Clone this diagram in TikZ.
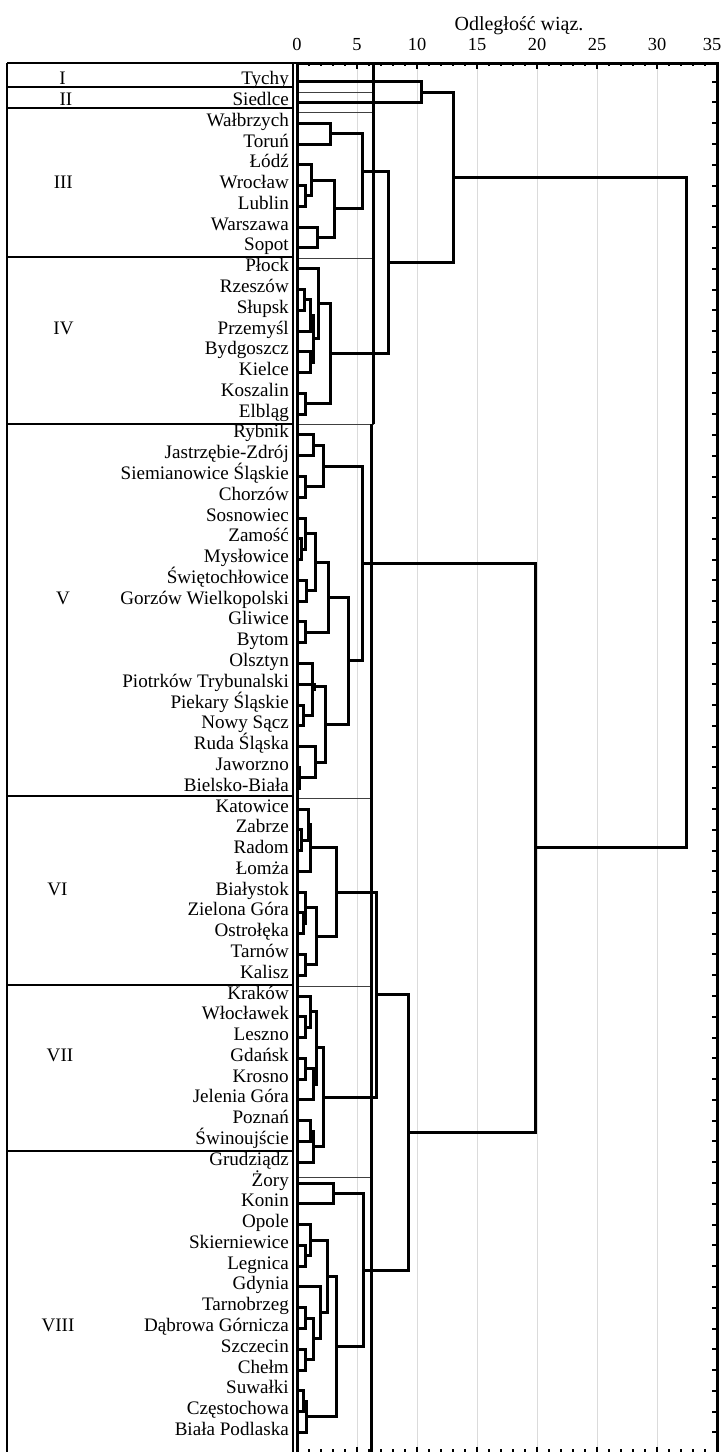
\documentclass[tikz,border=0pt]{standalone}
\usepackage{fontspec}
\setmainfont{Liberation Serif}
\usetikzlibrary{calc}
\newcommand\mrg[4]{%
  \path let \p1=(#2),\p2=(#3) in coordinate (#1) at ({#4pt},{0.5*\y1+0.5*\y2});
  \draw[dend] (#2) -| (#1) |- (#3);}
\begin{document}
\begin{tikzpicture}[x=1pt,y=-1pt,
  dend/.style={line width=3pt,line join=miter},
  leaf/.style={anchor=base east,inner sep=0pt,font=\fontsize{19.1}{20}\selectfont},
  grp/.style={anchor=base,inner sep=0pt,font=\fontsize{19.1}{20}\selectfont},
  axlab/.style={anchor=base,inner sep=0pt,font=\fontsize{18.4}{20}\selectfont},
  gridline/.style={black!14,line width=1pt},
  thinline/.style={black!75,line width=0.9pt},
  cutline/.style={black,line width=2.6pt},
  tableline/.style={black,line width=2.2pt},
  tick/.style={black,line width=2pt}]
\useasboundingbox (0,0) rectangle (723,1452);
\fill[white] (0,0) rectangle (723,1452);
% grid
\foreach \d in {5,10,...,30} \draw[gridline] ({297+12*\d},63) -- ({297+12*\d},1460);
% thin group lines in plot
\foreach \yy/\xx in {92.3/373.5,112.9/373.5,258.3/373.5,424/373.5,798.6/371.5,986.5/371.5,1177/371.5}
  \draw[thinline] (297,\yy) -- (\xx,\yy);
\draw[cutline] (373.5,63) -- (373.5,424);
\draw[cutline] (371.5,424) -- (371.5,1460);
% leaves
\foreach \n [count=\k from 0] in {Tychy,Siedlce,Wałbrzych,Toruń,Łódź,Wrocław,Lublin,Warszawa,Sopot,Płock,Rzeszów,Słupsk,Przemyśl,Bydgoszcz,Kielce,Koszalin,Elbląg,Rybnik,Jastrzębie-Zdrój,Siemianowice Śląskie,Chorzów,Sosnowiec,Zamość,Mysłowice,Świętochłowice,Gorzów Wielkopolski,Gliwice,Bytom,Olsztyn,Piotrków Trybunalski,Piekary Śląskie,Nowy Sącz,Ruda Śląska,Jaworzno,Bielsko-Biała,Katowice,Zabrze,Radom,Łomża,Białystok,Zielona Góra,Ostrołęka,Tarnów,Kalisz,Kraków,Włocławek,Leszno,Gdańsk,Krosno,Jelenia Góra,Poznań,Świnoujście,Grudziądz,Żory,Konin,Opole,Skierniewice,Legnica,Gdynia,Tarnobrzeg,Dąbrowa Górnicza,Szczecin,Chełm,Suwałki,Częstochowa,Biała Podlaska}{
  \node[leaf] (t\k) at (289,{81.7+20.78*\k+3}) {\n};
  \coordinate (L\k) at (297,{81.7+20.78*\k});
  \draw[tick] (717,{81.7+20.78*\k}) -- (712,{81.7+20.78*\k});
}
% top clusters
\mrg{mTS}{L0}{L1}{421.7}
% III
\mrg{mWT}{L2}{L3}{330.5}
\mrg{mWrLu}{L5}{L6}{305}
\mrg{mLo}{L4}{mWrLu}{311.5}
\mrg{mWaSo}{L7}{L8}{317.5}
\mrg{mLoWS}{mLo}{mWaSo}{334}
\mrg{mIII}{mWT}{mLoWS}{362.7}
% IV
\mrg{mRS}{L10}{L11}{304}
\mrg{mRSP}{mRS}{L12}{310}
\mrg{mBK}{L13}{L14}{310}
\mrg{mRSPBK}{mRSP}{mBK}{313.3}
\mrg{mPl}{L9}{mRSPBK}{318.3}
\mrg{mKE}{L15}{L16}{305}
\mrg{mIV}{mPl}{mKE}{330}
\mrg{mIIIIV}{mIII}{mIV}{388}
\mrg{mTopA}{mTS}{mIIIIV}{453.3}
% V
\mrg{mRJ}{L17}{L18}{313.8}
\mrg{mSC}{L19}{L20}{305.8}
\mrg{mVa}{mRJ}{mSC}{323.7}
\mrg{mZM}{L22}{L23}{301.7}
\mrg{mSZM}{L21}{mZM}{305.5}
\mrg{mSG}{L24}{L25}{306.7}
\mrg{mSZMSG}{mSZM}{mSG}{315}
\mrg{mGB}{L26}{L27}{305}
\mrg{mVbA}{mSZMSG}{mGB}{328.3}
\mrg{mPkNS}{L30}{L31}{303.3}
\mrg{mOPk}{L28}{mPkNS}{312.5}
\mrg{mPOPk}{L29}{mOPk}{314}
\mrg{mJB}{L33}{L34}{299.5}
\mrg{mRJB}{L32}{mJB}{315.5}
\mrg{mVbB}{mPOPk}{mRJB}{325}
\mrg{mVb}{mVbA}{mVbB}{348.5}
\mrg{mV}{mVa}{mVb}{362.6}
% VI
\mrg{mZR}{L36}{L37}{301.7}
\mrg{mKZR}{L35}{mZR}{308.5}
\mrg{mVIa}{mKZR}{L38}{310.5}
\mrg{mZO}{L40}{L41}{303}
\mrg{mBZO}{L39}{mZO}{305.5}
\mrg{mTK}{L42}{L43}{305}
\mrg{mVIb}{mBZO}{mTK}{316.7}
\mrg{mVI}{mVIa}{mVIb}{336.7}
% VII
\mrg{mWL}{L45}{L46}{305}
\mrg{mKWL}{L44}{mWL}{310.7}
\mrg{mGK}{L47}{L48}{305}
\mrg{mGKJ}{mGK}{L49}{313.3}
\mrg{mVIIa}{mKWL}{mGKJ}{316.7}
\mrg{mPS}{L50}{L51}{310}
\mrg{mPSG}{mPS}{L52}{313.5}
\mrg{mVII}{mVIIa}{mPSG}{323.3}
\mrg{mVIVII}{mVI}{mVII}{376.5}
% VIII
\mrg{mZK}{L53}{L54}{333.3}
\mrg{mSL}{L56}{L57}{305}
\mrg{mOSL}{L55}{mSL}{310}
\mrg{mTD}{L59}{L60}{305}
\mrg{mSzC}{L61}{L62}{305}
\mrg{mTDSC}{mTD}{mSzC}{313.3}
\mrg{mG}{L58}{mTDSC}{320.7}
\mrg{mVIIIbA}{mOSL}{mG}{327.3}
\mrg{mSuC}{L63}{L64}{303.3}
\mrg{mSCB}{mSuC}{L65}{306}
\mrg{mVIIIb}{mVIIIbA}{mSCB}{336.7}
\mrg{mVIII}{mZK}{mVIIIb}{363.3}
\mrg{mVItoVIII}{mVIVII}{mVIII}{408.3}
\mrg{mVtoVIII}{mV}{mVItoVIII}{535.5}
\mrg{mRoot}{mTopA}{mVtoVIII}{686}
% plot frame and ticks
\draw[line width=3pt] (297,1460) -- (297,63) -- (717,63) -- (717,1460);
\foreach \i in {1,...,34}{
  \pgfmathsetmacro\len{ifthenelse(mod(\i,5)==0,5.5,3)}
  \draw[tick] ({297+12*\i},63) -- ++(0,\len);
  \draw[tick] ({297+12*\i},1452) -- ++(0,-\len);
}
% table
\draw[line width=1.3pt] (7,63) -- (7,1460);
\draw[line width=1.3pt] (293,63) -- (293,1460);
\draw[tableline] (7,63) -- (297,63);
\foreach \yy in {86.7,108,257,424,796,985,1151} \draw[tableline] (7,\yy) -- (293,\yy);
% group labels
\foreach \g/\xx/\k in {I/62.5/0,II/66/1,III/63.3/5,IV/63.5/12,V/63/25,VI/57.5/39,VII/60/47,VIII/58/60}
  \node[grp] (g\g) at (\xx,{81.7+20.78*\k+3}) {\g};
% axis labels
\foreach \d in {0,5,...,30} \node[axlab] (a\d) at ({297+12*\d},50) {\d};
\node[axlab] (a35) at (712,50) {35};
\node[axlab,font=\fontsize{20}{22}\selectfont] (title) at (519,30) {Odległość wiąz.};
\end{tikzpicture}
\end{document}
